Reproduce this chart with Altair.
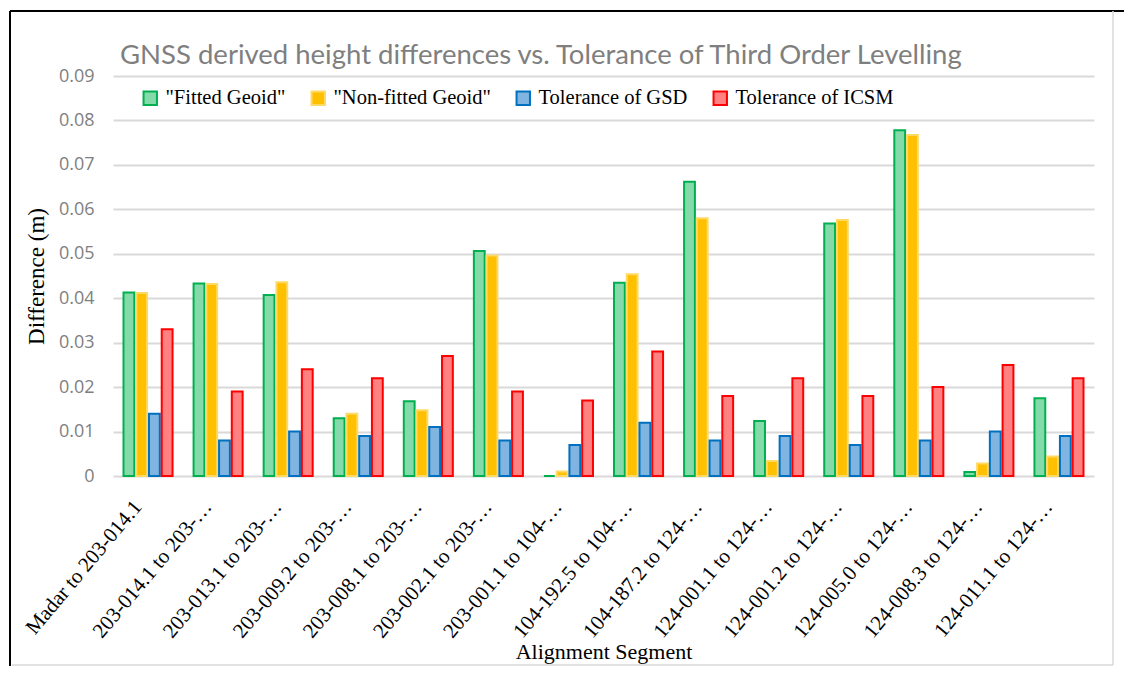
import altair as alt
import pandas as pd

categories = [
    "Madar to 203-014.1",
    "203-014.1 to 203-…",
    "203-013.1 to 203-…",
    "203-009.2 to 203-…",
    "203-008.1 to 203-…",
    "203-002.1 to 203-…",
    "203-001.1 to 104-…",
    "104-192.5 to 104-…",
    "104-187.2 to 124-…",
    "124-001.1 to 124-…",
    "124-001.2 to 124-…",
    "124-005.0 to 124-…",
    "124-008.3 to 124-…",
    "124-011.1 to 124-…",
]
series = ['"Fitted Geoid"', '"Non-fitted Geoid"', "Tolerance of GSD", "Tolerance of ICSM"]
fitted = [0.0413, 0.0433, 0.0407, 0.0130, 0.0168, 0.0506, 0.0, 0.0435, 0.0662, 0.0124, 0.0568, 0.0778, 0.0009, 0.0175]
nonfitted = [0.0412, 0.0432, 0.0436, 0.0140, 0.0148, 0.0496, 0.0010, 0.0454, 0.0580, 0.0034, 0.0576, 0.0767, 0.0028, 0.0044]
gsd = [0.014, 0.008, 0.010, 0.009, 0.011, 0.008, 0.007, 0.012, 0.008, 0.009, 0.007, 0.008, 0.010, 0.009]
icsm = [0.033, 0.019, 0.024, 0.022, 0.027, 0.019, 0.017, 0.028, 0.018, 0.022, 0.018, 0.020, 0.025, 0.022]
title_text = "GNSS derived height differences vs. Tolerance of Third Order Levelling"

fill_colors = ["#84DAA8", "#FFC000", "#7FB5E0", "#FF8181"]
stroke_colors = ["#00B050", "#FFD966", "#0070C0", "#FF0000"]

SERIF = "Liberation Serif, Times New Roman, serif"

rows = []
for name, vals in zip(series, [fitted, nonfitted, gsd, icsm]):
    for c, v in zip(categories, vals):
        rows.append({"segment": c, "series": name, "value": v})
df = pd.DataFrame(rows)

legend = alt.Legend(title=None, orient="none", legendX=27, legendY=12,
                    direction="horizontal", symbolType="square", symbolSize=180,
                    symbolStrokeWidth=2, labelFont=SERIF, labelLimit=400,
                    labelFontSize=20.5, labelColor="#000000", columnPadding=21,
                    labelOffset=5)

bars = alt.Chart(df).mark_bar(strokeWidth=2).encode(
    x=alt.X("segment:N", sort=categories,
            scale=alt.Scale(paddingInner=0.3, paddingOuter=0.15),
            axis=alt.Axis(title="Alignment Segment", labelAngle=-50, labelAlign="right",
                          labelBaseline="middle", labelFont=SERIF, labelFontSize=21,
                          labelColor="#000000", labelPadding=27, labelOffset=-10, labelLimit=300,
                          titleFont=SERIF, titleFontSize=22, titleFontWeight="normal",
                          titleColor="#000000", titlePadding=0, ticks=False, domain=False)),
    xOffset=alt.XOffset("series:N", sort=series, scale=alt.Scale(paddingInner=0.15)),
    y=alt.Y("value:Q", scale=alt.Scale(domain=[0, 0.09]),
            axis=alt.Axis(title="Difference (m)", values=[0, 0.01, 0.02, 0.03, 0.04, 0.05, 0.06, 0.07, 0.08, 0.09],
                          labelExpr="datum.value == 0 ? '0' : format(datum.value, '.2f')",
                          labelFont="Open Sans", labelFontSize=18, labelColor="#7F7F7F",
                          labelPadding=19, ticks=False, domain=False,
                          gridColor="#D9D9D9", gridWidth=2,
                          titleFont=SERIF, titleFontSize=23, titleFontWeight="normal",
                          titleColor="#000000", titlePadding=10)),
    fill=alt.Fill("series:N", sort=series, scale=alt.Scale(domain=series, range=fill_colors),
                  legend=legend),
    stroke=alt.Stroke("series:N", sort=series, scale=alt.Scale(domain=series, range=stroke_colors),
                      legend=legend),
)

frame = pd.DataFrame({"k": [0]})
left_line = alt.Chart(frame).mark_rule(color="#000000", strokeWidth=2).encode(
    x=alt.value(-103), y=alt.value(-65), y2=alt.value(600))
top_line = alt.Chart(frame).mark_rule(color="#000000", strokeWidth=2).encode(
    x=alt.value(-103), x2=alt.value(1030), y=alt.value(-65))
right_line = alt.Chart(frame).mark_rule(color="#D9D9D9", strokeWidth=1.5).encode(
    x=alt.value(1000), y=alt.value(-65), y2=alt.value(589))
bottom_line = alt.Chart(frame).mark_rule(color="#D9D9D9", strokeWidth=1.5).encode(
    x=alt.value(-101), x2=alt.value(1000), y=alt.value(589))
title_mark = alt.Chart(frame).mark_text(
    align="left", baseline="alphabetic", font="Lato", fontSize=27.5, color="#7F7F7F"
).encode(x=alt.value(7), y=alt.value(-12), text=alt.value(title_text))

chart = alt.layer(bars, left_line, top_line, right_line, bottom_line, title_mark).properties(
    width=981, height=400,
    autosize=alt.AutoSizeParams(type="none"),
    padding={"left": 105, "top": 68, "right": 30, "bottom": 190},
).configure(background="white", font=SERIF).configure_view(stroke=None).configure_legend(
    labelFont=SERIF, labelFontSize=20.5, labelColor="#000000", labelLimit=400
)

chart.save("out.html", embed_options={"renderer": "svg", "actions": False})
